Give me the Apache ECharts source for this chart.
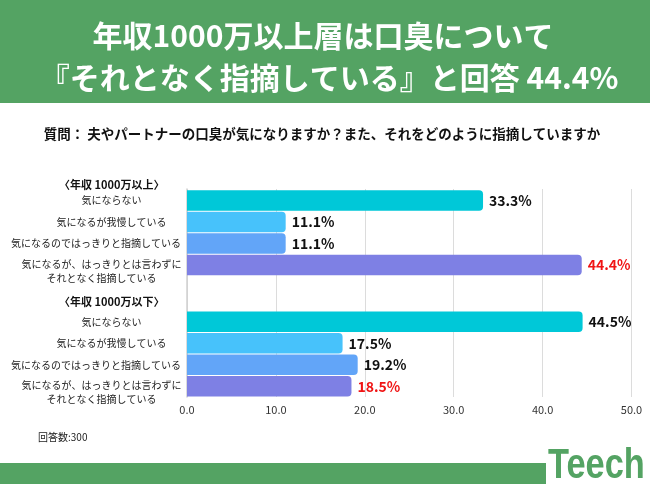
<!DOCTYPE html>
<html>
<head>
<meta charset="utf-8">
<script src="https://cdn.jsdelivr.net/npm/echarts@6/dist/echarts.min.js"></script>
<style>
html,body{margin:0;padding:0;background:#fff;}
#chart{width:650px;height:484px;}
</style>
</head>
<body>
<div id="chart"></div>
<script>
// ---- data ----
const titleLines = ['年収1000万以上層は口臭について', '『それとなく指摘している』と回答 44.4%'];
const questionText = '質問： 夫やパートナーの口臭が気になりますか？また、それをどのように指摘していますか';
const groupLabels = ['〈年収 1000万以上〉', '〈年収 1000万以下〉'];
const categories = ['気にならない', '気になるが我慢している', '気になるのではっきりと指摘している', '気になるが、はっきりとは言わずに\nそれとなく指摘している'];
const valuesHigh = [33.3, 11.1, 11.1, 44.4];
const valuesLow = [44.5, 17.5, 19.2, 18.5];
const highlightIndex = 3;
const xTicks = [0, 10, 20, 30, 40, 50];
const noteText = '回答数:300';
const logoText = 'Teech';

// ---- styles ----
const FONT = '"Noto Sans CJK JP", "Noto Sans", sans-serif';
const GREEN = '#54A363';
const barColors = ['#00C8D8', '#47C2FB', '#62A5F8', '#7E80E4'];
const RED = '#F01414';

const chart = echarts.init(document.getElementById('chart'), null, {renderer: 'canvas'});

function makeData(values) {
  return values.map((v, i) => ({
    value: v,
    itemStyle: {color: barColors[i]},
    label: {color: i === highlightIndex ? RED : '#111'}
  }));
}

const xMin = xTicks[0], xMax = xTicks[xTicks.length - 1], xInt = xTicks[1] - xTicks[0];
const gridBase = {left: 187, right: 18.5};

function catAxis(gridIndex) {
  return {
    type: 'category', gridIndex: gridIndex, inverse: true, data: categories,
    axisLine: {show: false}, axisTick: {show: false},
    axisLabel: {
      interval: 0, hideOverlap: false,
      align: 'center', margin: 75.5, fontFamily: FONT, fontSize: 10, color: '#222',
      formatter: function (value, index) {
        if (index === 2) return '{s|' + value + '}';
        if (index === 3) {
          const l = value.split('\n');
          return '{e| }\n{m|' + l[0] + '}\n{m|' + l[1] + '}';
        }
        return '{n|' + value + '}';
      },
      rich: {
        n: {fontFamily: FONT, fontSize: 10, color: '#222'},
        s: {fontFamily: FONT, fontSize: 10, color: '#222', padding: [0, 31, 0, 0]},
        e: {fontFamily: FONT, fontSize: 1, lineHeight: 12},
        m: {fontFamily: FONT, fontSize: 10, color: '#222', lineHeight: 14, padding: [0, 20, 0, 0]}
      }
    }
  };
}
function hiddenX(gridIndex) {
  return {type: 'value', gridIndex: gridIndex, min: xMin, max: xMax, interval: xInt, show: false, splitLine: {show: false}};
}
function barSeries(idx, values) {
  return {
    type: 'bar', xAxisIndex: idx, yAxisIndex: idx, data: makeData(values),
    barWidth: 20.5,
    itemStyle: {borderRadius: [0, 4, 4, 0]},
    label: {
      show: true, position: 'right', distance: 6,
      fontFamily: FONT, fontSize: 14, fontWeight: 'bold',
      formatter: p => p.value.toFixed(1) + '%'
    },
    animation: false
  };
}

const option = {
  backgroundColor: '#fff',
  animation: false,
  grid: [
    Object.assign({top: 189, height: 208}, gridBase),
    Object.assign({top: 189.7, height: 86}, gridBase),
    Object.assign({top: 311, height: 86}, gridBase)
  ],
  xAxis: [
    {
      type: 'value', gridIndex: 0, min: xMin, max: xMax, interval: xInt,
      axisLine: {show: false}, axisTick: {show: false},
      splitLine: {show: true, lineStyle: {color: '#DCDCDC', width: 1}},
      axisLabel: {margin: 7, fontFamily: FONT, fontSize: 11, color: '#333', formatter: v => v.toFixed(1)}
    },
    hiddenX(1), hiddenX(2)
  ],
  yAxis: [
    {type: 'value', gridIndex: 0, axisLabel: {show: false}, axisTick: {show: false}, splitLine: {show: false},
     axisLine: {show: true, lineStyle: {color: '#D0D0D0', width: 1.5}}},
    catAxis(1), catAxis(2)
  ],
  series: [barSeries(1, valuesHigh), barSeries(2, valuesLow)],
  graphic: [
    {type: 'rect', shape: {x: 0, y: 0, width: 650, height: 103}, style: {fill: GREEN}, silent: true},
    {type: 'text', x: 323, y: 36, style: {text: titleLines[0], fill: '#fff', fontFamily: FONT, fontSize: 30, fontWeight: 'bold', align: 'center', verticalAlign: 'middle'}},
    {type: 'text', x: 329, y: 78, style: {text: titleLines[1], fill: '#fff', fontFamily: FONT, fontSize: 30, fontWeight: 'bold', align: 'center', verticalAlign: 'middle'}},
    {type: 'text', x: 322, y: 134, style: {text: questionText, fill: '#111', fontFamily: FONT, fontSize: 13.5, fontWeight: 'bold', align: 'center', verticalAlign: 'middle'}},
    {type: 'text', x: 111.7, y: 185, style: {text: groupLabels[0], fill: '#111', fontFamily: FONT, fontSize: 11, fontWeight: 'bold', align: 'center', verticalAlign: 'middle'}},
    {type: 'text', x: 111.7, y: 301.5, style: {text: groupLabels[1], fill: '#111', fontFamily: FONT, fontSize: 11, fontWeight: 'bold', align: 'center', verticalAlign: 'middle'}},
    {type: 'text', x: 38, y: 437, style: {text: noteText, fill: '#222', fontFamily: FONT, fontSize: 10, align: 'left', verticalAlign: 'middle'}},
    {type: 'rect', shape: {x: 0, y: 463, width: 546, height: 21}, style: {fill: GREEN}, silent: true},
    {type: 'text', x: 548, y: 488, scaleX: 0.8, style: {text: logoText, fill: GREEN, fontFamily: '"Liberation Sans", Roboto, sans-serif', fontSize: 43, fontWeight: 'bold', align: 'left', verticalAlign: 'bottom'}}
  ]
};
chart.setOption(option);
</script>
</body>
</html>
